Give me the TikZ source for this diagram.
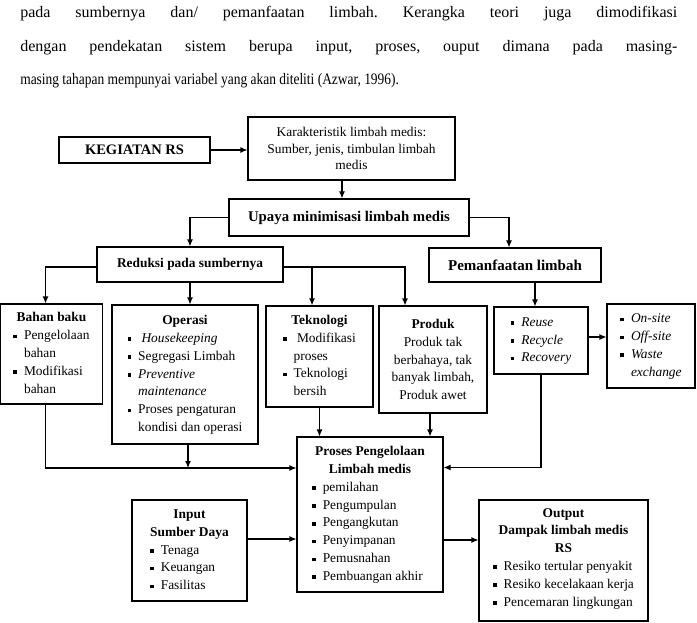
\documentclass[tikz,border=0pt]{standalone}
\usepackage{fontspec}
\setmainfont{Liberation Serif}
\usepackage{tikz}
\usetikzlibrary{shapes, positioning, arrows.meta}

\newcommand{\sq}{\rule[1.4pt]{3.6pt}{3.6pt}}
\newcommand{\bx}{\fontsize{13.4}{17.8}\selectfont}

\begin{document}
\begin{tikzpicture}[x=1pt, y=-1pt, semithick, >={Latex[length=7pt,width=6pt]}]
\tikzstyle{box}=[draw, rectangle, line width=1.1pt, inner sep=0pt, align=center, font=\bx]
\tikzstyle{link}=[->, line width=1.1pt]
\useasboundingbox (0,0) rectangle (697,623);

\node[anchor=north west, inner sep=0pt, text width=657pt, align=justify,
      font=\fontsize{16}{33.5}\selectfont\frenchspacing] (teks) at (20,6)
  {pada sumbernya dan/ pemanfaatan limbah. Kerangka teori juga dimodifikasi\linebreak
   dengan pendekatan sistem berupa input, proses, ouput dimana pada masing-\linebreak
   \scalebox{0.84}[1]{masing tahapan mempunyai variabel yang akan diteliti (Azwar, 1996).}};

\node[box, minimum width=151pt, minimum height=26pt, font=\fontsize{14.5}{16}\selectfont\bfseries] (kegiatan) at (134.5,150) {KEGIATAN RS};
\node[box, minimum width=207pt, minimum height=63pt, font=\fontsize{13.4}{16.5}\selectfont] (karakter) at (351.5,148.5)
  {Karakteristik limbah medis:\\ Sumber, jenis, timbulan limbah\\ medis};
\node[box, minimum width=240pt, minimum height=37pt, font=\fontsize{14.8}{16}\selectfont\bfseries] (upaya) at (349,217.5) {Upaya minimisasi limbah medis};
\node[box, minimum width=186pt, minimum height=35pt, font=\fontsize{13.4}{16}\selectfont\bfseries] (reduksi) at (190,264.5) {Reduksi pada sumbernya};
\node[box, minimum width=172pt, minimum height=34pt, font=\fontsize{15}{16}\selectfont\bfseries] (pemanfaatan) at (515,265) {Pemanfaatan limbah};

\node[box, minimum width=102pt, minimum height=100pt] (bahan) at (51.5,354)
  {\begin{tabular}{@{}l@{\hspace{7pt}}l@{}}
   \multicolumn{2}{@{}c@{}}{\textbf{Bahan baku}}\\
   \sq & Pengelolaan\\ & bahan\\
   \sq & Modifikasi\\ & bahan
   \end{tabular}};
\node[box, minimum width=146pt, minimum height=139pt] (operasi) at (185,374.5)
  {\begin{tabular}{@{}l@{\hspace{7pt}}l@{}}
   \multicolumn{2}{@{}c@{}}{\textbf{Operasi}}\\
   \sq & \ \textit{Housekeeping}\\
   \sq & Segregasi Limbah\\
   \sq & \textit{Preventive}\\ & \textit{maintenance}\\
   \sq & Proses pengaturan\\ & kondisi dan operasi
   \end{tabular}};
\node[box, minimum width=107pt, minimum height=101pt] (teknologi) at (319.5,356.5)
  {\begin{tabular}{@{}l@{\hspace{7pt}}l@{}}
   \multicolumn{2}{@{}c@{}}{\textbf{Teknologi}}\\
   \sq & \ Modifikasi\\ & proses\\
   \sq & Teknologi\\ & bersih
   \end{tabular}};
\node[box, minimum width=108pt, minimum height=107pt] (produk) at (433,359.5)
  {\textbf{Produk}\\ Produk tak\\ berbahaya, tak\\ banyak limbah,\\ Produk awet};
\node[box, minimum width=94pt, minimum height=67pt] (reuse) at (541,340.5)
  {\begin{tabular}{@{}l@{\hspace{7pt}}l@{}}
   \sq & \textit{Reuse}\\
   \sq & \textit{Recycle}\\
   \sq & \textit{Recovery}
   \end{tabular}};
\node[box, minimum width=88pt, minimum height=84pt] (onsite) at (651,346)
  {\begin{tabular}{@{}l@{\hspace{7pt}}l@{}}
   \sq & \textit{On-site}\\
   \sq & \textit{Off-site}\\
   \sq & \textit{Waste}\\ & \textit{exchange}
   \end{tabular}};

\node[box, minimum width=146pt, minimum height=155pt] (proses) at (370,514.5)
  {\begin{tabular}{@{}l@{\hspace{7pt}}l@{\hspace{5pt}}}
   \multicolumn{2}{@{}c@{}}{\textbf{Proses Pengelolaan}}\\
   \multicolumn{2}{@{}c@{}}{\textbf{Limbah medis}}\\
   \sq & pemilahan\\
   \sq & Pengumpulan\\
   \sq & Pengangkutan\\
   \sq & Penyimpanan\\
   \sq & Pemusnahan\\
   \sq & Pembuangan akhir
   \end{tabular}};
\node[box, minimum width=115pt, minimum height=101pt] (input) at (189.5,550.5)
  {\begin{tabular}{@{}l@{\hspace{7pt}}l@{}}
   \multicolumn{2}{@{}c@{}}{\textbf{Input}}\\
   \multicolumn{2}{@{}c@{}}{\textbf{Sumber Daya}}\\
   \sq & Tenaga\\
   \sq & Keuangan\\
   \sq & Fasilitas
   \end{tabular}};
\node[box, minimum width=169pt, minimum height=121pt] (output) at (563.5,560.5)
  {\begin{tabular}{@{}l@{\hspace{7pt}}l@{}}
   \multicolumn{2}{@{}c@{}}{\textbf{Output}}\\
   \multicolumn{2}{@{}c@{}}{\textbf{Dampak limbah medis}}\\
   \multicolumn{2}{@{}c@{}}{\textbf{RS}}\\
   \sq & Resiko tertular penyakit\\
   \sq & Resiko kecelakaan kerja\\
   \sq & Pencemaran lingkungan
   \end{tabular}\\[4pt]};

% arah alur
\coordinate (kirimasuk) at ([yshift=46.5pt]proses.west);
\coordinate (kananmasuk) at ([yshift=47pt]proses.east);

\draw[link] (kegiatan.east) -- (kegiatan.east -| karakter.west);
\draw[link] ([xshift=-9.5pt]karakter.south) -- ([xshift=-9.5pt]karakter.south |- upaya.north);
\draw[link] (upaya.west) -| (reduksi.north);
\draw[link] (upaya.east) -| ([xshift=-6pt]pemanfaatan.north);
\draw[link] ([yshift=-2.5pt]reduksi.west) -| ([xshift=-6pt]bahan.north);
\draw[link] (reduksi.south) -- (reduksi.south |- operasi.north);
\draw[link] ([yshift=-2.5pt]reduksi.east) -| ([xshift=-28pt]produk.north);
\draw[link] ([xshift=-7.5pt]teknologi.north |- 0,267) -- ([xshift=-7.5pt]teknologi.north);
\draw[link] ([xshift=-6pt]reuse.north |- pemanfaatan.south) -- ([xshift=-6pt]reuse.north);
\draw[link] ([yshift=3.5pt]reuse.east) -- ([yshift=3.5pt]reuse.east -| onsite.west);
\draw[link] ([xshift=-6pt]bahan.south) |- (kirimasuk);
\draw[link] ([xshift=3pt]operasi.south) -- ([xshift=3pt]operasi.south |- kirimasuk);
\draw[link] (teknologi.south) -- (teknologi.south |- proses.north);
\draw[link] ([xshift=-3pt]produk.south) -- ([xshift=-3pt]produk.south |- proses.north);
\draw[link] (reuse.south) |- (kananmasuk);
\draw[link] ([yshift=11.5pt]input.east) -- ([yshift=11.5pt]input.east -| proses.west);
\draw[link] ([yshift=-25.5pt]proses.east) -- ([yshift=-25.5pt]proses.east -| output.west);

\end{tikzpicture}
\end{document}
